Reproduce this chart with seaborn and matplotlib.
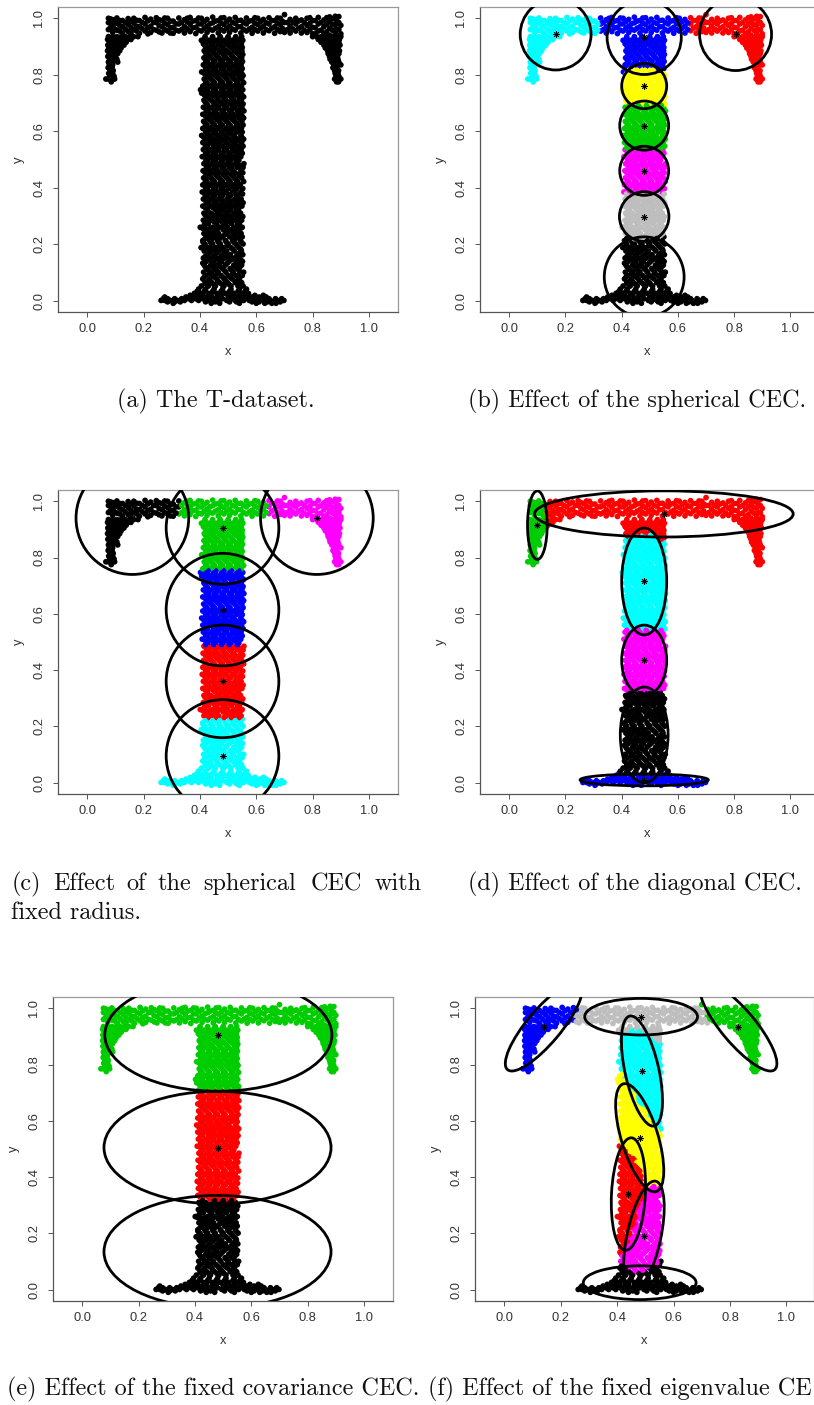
import numpy as np
import pandas as pd
import matplotlib
matplotlib.use("Agg")
import matplotlib.pyplot as plt
from matplotlib.patches import Ellipse
import seaborn as sns

stem_rows = [
    (0.052, [.405, .43, .455, .485, .51, .535, .553]), (0.064, [.418, .442, .47, .498, .525, .548]),
    (0.077, [.41, .435, .46, .487, .515, .54]), (0.089, [.42, .447, .475, .5, .53, .55]),
    (0.101, [.413, .44, .465, .492, .518, .543, .555]), (0.114, [.425, .452, .48, .507, .532]),
    (0.126, [.415, .438, .462, .49, .52, .548]), (0.139, [.422, .45, .477, .503, .528, .551]),
    (0.151, [.412, .436, .46, .488, .514, .54]), (0.163, [.426, .453, .482, .508, .535, .552]),
    (0.176, [.415, .44, .468, .495, .522, .547]), (0.188, [.404, .43, .456, .483, .51, .538]),
    (0.201, [.418, .445, .472, .5, .527, .553]), (0.213, [.41, .435, .462, .49, .516, .543]),
    (0.226, [.424, .45, .478, .505, .532, .55]), (0.238, [.414, .44, .466, .493, .52, .546]),
    (0.251, [.428, .455, .483, .51, .537]), (0.26, [.401, .418, .445, .472, .498, .525, .55]),
    (0.273, [.43, .458, .485, .512, .54]), (0.285, [.412, .44, .467, .494, .522, .548]),
    (0.298, [.425, .452, .48, .506, .534, .552]), (0.31, [.414, .438, .463, .49, .518, .544]),
    (0.322, [.427, .455, .483, .51, .537]), (0.335, [.41, .437, .465, .492, .52, .549]),
    (0.347, [.422, .45, .477, .503, .53, .553]), (0.36, [.412, .44, .468, .497, .524, .546]),
    (0.372, [.426, .453, .48, .508, .535]), (0.385, [.408, .435, .462, .49, .516, .545]),
    (0.397, [.42, .448, .475, .502, .53, .552]), (0.41, [.41, .437, .465, .493, .52, .543]),
    (0.422, [.425, .452, .48, .507, .534, .555]), (0.435, [.413, .44, .468, .495, .522, .548]),
    (0.447, [.428, .456, .483, .51, .538]), (0.46, [.411, .437, .463, .49, .518, .545]),
    (0.472, [.423, .45, .478, .505, .532, .553]), (0.485, [.414, .442, .47, .497, .525, .556]),
    (0.497, [.428, .455, .482, .51, .538]), (0.51, [.408, .435, .462, .49, .517, .545]),
    (0.522, [.42, .448, .476, .503, .53, .55]), (0.535, [.412, .44, .467, .494, .522, .546]),
    (0.547, [.426, .453, .48, .508, .535, .553]), (0.56, [.41, .438, .465, .492, .52, .548]),
    (0.572, [.423, .45, .478, .505, .533, .555]), (0.585, [.406, .435, .462, .49, .518, .545]),
    (0.597, [.42, .447, .475, .502, .53, .55]), (0.61, [.41, .437, .464, .493, .52, .547]),
    (0.622, [.425, .452, .48, .507, .535, .553]), (0.635, [.413, .44, .468, .495, .523, .549]),
    (0.647, [.427, .455, .482, .51, .538, .555]), (0.66, [.41, .437, .463, .49, .517, .545]),
    (0.672, [.422, .45, .478, .505, .532, .556]), (0.685, [.412, .44, .467, .495, .522, .549]),
    (0.697, [.425, .453, .48, .508, .536, .553]), (0.71, [.414, .44, .466, .492, .52, .547]),
    (0.722, [.427, .455, .483, .51, .538, .555]), (0.735, [.406, .435, .462, .49, .517, .545]),
    (0.747, [.402, .42, .448, .476, .503, .53, .552]), (0.76, [.41, .437, .465, .493, .52, .547]),
    (0.772, [.425, .452, .48, .507, .535, .555]), (0.785, [.415, .44, .468, .495, .522, .548]),
    (0.797, [.428, .455, .483, .51, .538, .553]), (0.81, [.406, .435, .463, .49, .518, .545]),
    (0.822, [.42, .448, .476, .503, .53, .55]), (0.835, [.412, .44, .467, .494, .522, .546]),
    (0.847, [.426, .453, .48, .508, .535, .551]), (0.86, [.414, .44, .466, .493, .52, .548]),
    (0.872, [.427, .455, .483, .51, .538, .552]), (0.885, [.415, .44, .468, .495, .523, .549]),
    (0.897, [.428, .456, .482, .51, .537, .55]), (0.91, [.412, .44, .465, .492, .52, .547]),
    (0.922, [.405, .43, .455, .483, .51, .538, .552]), (0.935, [.418, .445, .472, .5, .527, .548]),
]
stem_fill_rows = [
    (.058, [.424, .449, .478, .503, .541]), (.083, [.415, .452, .481, .507, .536]), (.108, [.431, .457, .486, .512, .538]),
    (.133, [.41, .444, .47, .497, .534]), (.157, [.419, .447, .475, .501, .529]), (.182, [.424, .449, .476, .517, .545]),
    (.207, [.411, .438, .466, .494, .52, .547]), (.232, [.431, .459, .486, .512, .539]), (.256, [.41, .436, .464, .491, .518, .544]),
    (.279, [.424, .451, .478, .505, .532]), (.304, [.418, .446, .473, .499, .527]), (.329, [.419, .447, .475, .502, .529]),
    (.353, [.431, .458, .485, .511, .538]), (.378, [.417, .444, .471, .499, .526, .551]), (.404, [.429, .456, .484, .511, .537]),
    (.428, [.42, .446, .474, .501, .528]), (.453, [.419, .444, .47, .497, .525, .552]), (.478, [.432, .46, .487, .515, .542]),
    (.503, [.421, .445, .473, .499, .527]), (.528, [.43, .458, .485, .512, .538]), (.553, [.419, .446, .472, .5, .527]),
    (.578, [.414, .441, .469, .497, .525, .549]), (.603, [.43, .456, .484, .511, .539]), (.628, [.419, .446, .473, .501, .529]),
    (.653, [.42, .446, .472, .5, .527, .55]), (.678, [.431, .459, .486, .513, .541]), (.703, [.419, .446, .473, .5, .528]),
    (.728, [.416, .445, .472, .5, .527, .549]), (.753, [.429, .456, .484, .511, .538]), (.778, [.42, .446, .474, .501, .529]),
    (.803, [.417, .444, .47, .497, .527, .549]), (.828, [.431, .458, .485, .512, .54]), (.853, [.42, .447, .473, .5, .528]),
    (.878, [.42, .447, .475, .502, .53]), (.903, [.418, .444, .473, .501, .527]), (.928, [.417, .443, .469, .497, .524, .545]),
]
stem_gap_rows = [
    (.07, [.43, .463, .491, .532]), (.095, [.433, .46, .517, .541]), (.12, [.419, .446, .472, .526, .542]),
    (.145, [.432, .468, .51, .545]), (.17, [.433, .461, .49, .541]), (.195, [.417, .44, .469, .497, .532]),
    (.22, [.418, .444, .47, .525]), (.245, [.423, .452, .503, .529]), (.268, [.415, .46, .49, .533]),
    (.292, [.433, .46, .487, .514, .541]), (.316, [.427, .47, .5, .53]), (.341, [.432, .458, .486, .512, .541]),
    (.366, [.419, .446, .474, .5, .53]), (.391, [.427, .455, .482, .525]), (.416, [.417, .444, .472, .5, .528]),
    (.441, [.433, .461, .489, .516, .54]), (.466, [.431, .456, .484, .512]), (.491, [.42, .448, .476, .504, .533]),
    (.516, [.428, .453, .481, .51, .536]), (.541, [.418, .447, .459, .487, .515, .54]), (.566, [.431, .457, .486, .513, .54]),
    (.591, [.427, .454, .482, .511]), (.616, [.418, .444, .47, .5, .528]), (.641, [.433, .461, .489, .516, .543]),
    (.666, [.429, .455, .483, .511, .537]), (.691, [.426, .459, .488, .516, .541]), (.716, [.433, .46, .486, .513, .54]),
    (.741, [.426, .455, .482, .51, .536]), (.766, [.418, .445, .472, .5, .528]), (.791, [.434, .461, .489, .516, .541]),
    (.816, [.427, .455, .483, .51, .537]), (.841, [.419, .446, .473, .5, .529]), (.866, [.433, .46, .487, .514, .541]),
    (.891, [.428, .453, .482, .516, .54]), (.916, [.426, .452, .478, .506, .533]),
]
base_rows = [
    (-0.009, [.305, .44, .47, .54, .6, .63, .655, .67]), (-0.004, [.285, .31, .33, .42, .455, .505, .53, .585, .61, .64, .665, .685]),
    (0.001, [.262, .275, .295, .32, .345, .37, .395, .43, .465, .495, .525, .555, .575, .6, .625, .65, .675, .698]),
    (0.007, [.27, .285, .31, .335, .36, .385, .41, .445, .48, .515, .545, .57, .59, .62, .645, .668, .69]),
    (0.013, [.275, .35, .375, .4, .425, .46, .5, .53, .56, .585, .61, .635]),
    (0.019, [.365, .385, .41, .44, .475, .51, .54, .57, .595, .625]), (0.026, [.38, .4, .43, .46, .49, .52, .55, .572]),
    (0.033, [.39, .415, .445, .475, .505, .535, .56]), (0.041, [.395, .42, .45, .48, .51, .54, .565]),
]
# the bar across the top, as (x, [y...]) columns
bar_cols = [
    (.075, [.96, .985, 1.0]), (.09, [.95, .972, .995]), (.105, [.958, .982, 1.001]), (.125, [.947, .97, .992]),
    (.145, [.953, .978, .999]), (.165, [.96, .983, 1.0]), (.185, [.947, .97, .992]), (.205, [.955, .98, 1.003]),
    (.225, [.95, .972, .997]), (.245, [.958, .985, 1.002]), (.265, [.948, .97, .992]), (.285, [.955, .978, 1.0]),
    (.305, [.947, .968, .99]), (.325, [.955, .98, 1.001]), (.345, [.948, .97, .995]), (.365, [.953, .978, 1.003]),
    (.385, [.946, .968, .992]), (.405, [.955, .98, 1.0]), (.425, [.95, .972, .996]), (.445, [.958, .984, 1.004]),
    (.465, [.948, .97, .992]), (.485, [.955, .978, 1.002]), (.505, [.95, .972, .997]), (.525, [.958, .982, 1.003]),
    (.545, [.948, .97, .993]), (.565, [.955, .98, 1.001]), (.585, [.947, .968, .992]), (.605, [.955, .978, 1.0]),
    (.625, [.948, .972, .996]), (.645, [.956, .98, 1.002]), (.665, [.947, .97, .992]), (.685, [.953, .978, 1.0]),
    (.7, [.95, .985, 1.013]), (.72, [.948, .972, .996]), (.74, [.955, .98, 1.0]), (.76, [.948, .97, .994]),
    (.78, [.95, .975, 1.0]), (.8, [.945, .968, .992]), (.82, [.955, .98, 1.003]), (.84, [.945, .97, .994]),
    (.86, [.94, .965, .988, 1.005]), (.88, [.948, .975, 1.007]), (.893, [.96, .985, 1.006]), (.9, [.945, .975]),
]
bar_fill_cols = [
    (.082, [.967, .986, .998]), (.098, [.962, .984]), (.115, [.955, .975, .992]), (.135, [.962, .985]), (.155, [.948, .967, .99]),
    (.175, [.955, .972, .993]), (.195, [.963, .985]), (.215, [.945, .966, .991]), (.235, [.96, .985]), (.255, [.952, .974, .995]),
    (.275, [.96, .982, 1.001]), (.295, [.948, .967, .99]), (.315, [.958, .98]), (.335, [.96, .985]), (.355, [.962, .987, 1.0]),
    (.375, [.966, .99]), (.395, [.958, .98, 1.001]), (.415, [.965, .988]), (.435, [.96, .98]), (.455, [.965, .99]),
    (.475, [.96, .983, 1.001]), (.495, [.965, .988]), (.515, [.962, .985]), (.535, [.97, .992]), (.555, [.96, .985]),
    (.575, [.962, .99]), (.595, [.96, .982, 1.002]), (.615, [.965, .988]), (.635, [.96, .984]), (.655, [.965, .992]),
    (.675, [.96, .982, 1.001]), (.692, [.965, .99]), (.71, [.96, .985]), (.73, [.962, .986]), (.75, [.965, .99]),
    (.77, [.958, .985]), (.79, [.96, .982, 1.002]), (.81, [.945, .966, .992]), (.83, [.958, .985]), (.85, [.952, .98, 1.002]),
    (.87, [.958, .978, .998]), (.885, [.96, .99]),
]
arm_rows = [
    (.935, [.075, .09, .105, .12, .135, .15, .165, .18, .80, .815, .83, .845, .86, .875, .89, .9]),
    (.925, [.072, .085, .1, .115, .13, .145, .155, .82, .835, .85, .865, .88, .895]),
    (.915, [.078, .093, .108, .122, .138, .83, .848, .862, .878, .893]),
    (.905, [.073, .088, .103, .118, .13, .84, .855, .87, .885, .897]),
    (.895, [.076, .092, .107, .12, .845, .86, .875, .89]),
    (.885, [.072, .086, .1, .115, .853, .868, .882, .895]),
    (.875, [.078, .093, .108, .855, .87, .885, .893]),
    (.865, [.073, .087, .1, .86, .875, .888]),
    (.855, [.079, .094, .105, .862, .878, .89]),
    (.845, [.075, .09, .108, .868, .882, .893]),
    (.835, [.078, .09, .875, .89, .9]),
    (.825, [.074, .088, .872, .885]),
    (.815, [.08, .092, .878, .892]),
    (.805, [.076, .09, .88, .89]),
    (.795, [.08, .095, .883, .893]),
    (.785, [.066, .075, .09, .097, .878, .888, .9]),
    (.775, [.085, .885, .892]),
]

# fitted ellipses: colour, centre x, centre y, half width, half height, angle
sph_colors = ["cyan", "blue", "red", "yellow", "green3", "magenta", "gray", "black"]
sph_cx = [.165, .48, .805, .48, .48, .48, .48, .48]
sph_cy = [.943, .933, .943, .76, .62, .46, .298, .084]
sph_a = [.126, .132, .128, .08, .087, .087, .088, .142]

rad_colors = ["black", "green3", "magenta", "blue", "red", "cyan"]
rad_cx = [.16, .48, .815, .48, .48, .48]
rad_cy = [.94, .905, .94, .615, .36, .095]
rad_a = [.2] * 6

diag_colors = ["green3", "red", "cyan", "magenta", "black", "blue"]
diag_cx = [.1, .55, .48, .48, .48, .48]
diag_cy = [.915, .955, .715, .435, .17, .01]
diag_a = [.035, .46, .08, .08, .085, .228]
diag_b = [.122, .082, .19, .125, .17, .021]

cov_colors = ["green3", "red", "black"]
cov_cx = [.483, .48, .48]
cov_cy = [.905, .505, .135]
cov_a = [.403] * 3
cov_b = [.2] * 3

eig_colors = ["blue", "green3", "gray", "cyan", "yellow", "red", "magenta", "black"]
eig_cx = [.14, .83, .485, .488, .48, .44, .495, .48]
eig_cy = [.935, .935, .97, .777, .54, .34, .19, .025]
eig_a = [.2] * 8
eig_b = [.06, .06, .065, .06, .065, .06, .06, .06]
eig_ang = [50, 130, 0, 102.5, 107, 87, 78, 0]

r_colors = {"black": "#000000", "red": "#FF0000", "green3": "#00CD00", "blue": "#0000FF",
            "cyan": "#00FFFF", "magenta": "#FF00FF", "yellow": "#FFFF00", "gray": "#BEBEBE"}

FIG_W, FIG_H = 814, 1405
sns.set_style("ticks")
plt.rcParams["font.family"] = ["Liberation Sans", "DejaVu Sans"]

px, py = [], []
for yy, xs in stem_rows + stem_fill_rows + stem_gap_rows + base_rows + arm_rows:
    px += xs
    py += [yy] * len(xs)
for xx, ys in bar_cols + bar_fill_cols:
    py += ys
    px += [xx] * len(ys)
points = pd.DataFrame({"x": px, "y": py})


def assign(df, colors, cx, cy, a, b, ang):
    # each point goes to the ellipse where its scaled distance is smallest
    dist = []
    for i in range(len(colors)):
        t = np.radians(ang[i])
        dx = df["x"].values - cx[i]
        dy = df["y"].values - cy[i]
        u = (dx * np.cos(t) + dy * np.sin(t)) / a[i]
        v = (-dx * np.sin(t) + dy * np.cos(t)) / b[i]
        dist.append(u ** 2 + v ** 2)
    return np.array(colors)[np.argmin(dist, axis=0)]


def panel(left, right, top, bottom, xmax, colors=None, cx=None, cy=None, a=None, b=None, ang=None):
    ax = plt.gcf().add_axes([left / FIG_W, 1 - bottom / FIG_H, (right - left) / FIG_W, (bottom - top) / FIG_H])
    df = points.copy()
    if colors is None:
        df["cluster"] = "black"
    else:
        b = a if b is None else b
        ang = [0] * len(colors) if ang is None else ang
        df["cluster"] = assign(df, colors, cx, cy, a, b, ang)
    sns.scatterplot(data=df, x="x", y="y", hue="cluster", palette=r_colors, legend=False,
                    s=17, linewidth=0, ax=ax)
    if colors is not None:
        for i in range(len(colors)):
            ax.add_patch(Ellipse((cx[i], cy[i]), 2 * a[i], 2 * b[i], angle=ang[i], fill=False,
                                 edgecolor="black", linewidth=2.0, zorder=4))
        ax.plot(cx, cy, ls="", marker=(8, 2, 0), ms=4.5, mew=0.6, color="black", zorder=5)
    ax.set_xlim(-0.104, xmax)
    ax.set_ylim(-0.04, 1.04)
    ax.set_xticks([0, .2, .4, .6, .8, 1.0])
    ax.set_yticks([0, .2, .4, .6, .8, 1.0])
    ax.set_xticklabels(["0.0", "0.2", "0.4", "0.6", "0.8", "1.0"])
    ax.set_yticklabels(["0.0", "0.2", "0.4", "0.6", "0.8", "1.0"], rotation=90, va="center")
    ax.tick_params(length=3.6, width=0.7, color="#555555", labelsize=9.3, labelcolor="#333333")
    ax.tick_params(axis="x", pad=4.3)
    ax.tick_params(axis="y", pad=5.5)
    ax.set_xlabel("x", fontsize=9.3, color="#333333")
    ax.set_ylabel("y", fontsize=9.3, color="#333333")
    ax.xaxis.set_label_coords(0.5, -40 / (bottom - top))
    ax.xaxis.label.set_va("center")
    ax.yaxis.set_label_coords(-39 / (right - left), 0.5)
    ax.yaxis.label.set_va("center")
    for name, sp in ax.spines.items():
        sp.set_visible(True)
        sp.set_linewidth(0.9)
        sp.set_color("#555555" if name in ("left", "bottom") else "#999999")
    ax.spines["right"].set_visible(xmax > 1.09)
    return ax


def caption(x, y, s):
    plt.gcf().text(x / FIG_W, 1 - y / FIG_H, s, family="cmr10", fontsize=17.4, color="#111111", va="center", ha="left")


fig = plt.figure(figsize=(FIG_W / 100, FIG_H / 100), dpi=100)

panel(58, 398, 7, 312, 1.103)
panel(480, 814, 7, 312, 1.084, sph_colors, sph_cx, sph_cy, sph_a)
panel(58, 398, 490, 794, 1.103, rad_colors, rad_cx, rad_cy, rad_a)
panel(480, 814, 490, 794, 1.084, diag_colors, diag_cx, diag_cy, diag_a, diag_b)
panel(53, 393, 997, 1301, 1.103, cov_colors, cov_cx, cov_cy, cov_a, cov_b)
panel(475, 814, 997, 1301, 1.098, eig_colors, eig_cx, eig_cy, eig_a, eig_b, eig_ang)

caption(117, 401, "(a) The T-dataset.")
caption(468, 401, "(b) Effect of the spherical CEC.")
for wx, word in zip([12, 53, 126, 158, 203, 311, 375], ["(c)", "Effect", "of", "the", "spherical", "CEC", "with"]):
    caption(wx, 884, word)
caption(11, 913, "fixed radius.")
caption(468, 884, "(d) Effect of the diagonal CEC.")
caption(7, 1389, "(e) Effect of the fixed covariance CEC.")
caption(428, 1389, "(f) Effect of the fixed eigenvalue CE")

fig.savefig("out.png", dpi=100)
